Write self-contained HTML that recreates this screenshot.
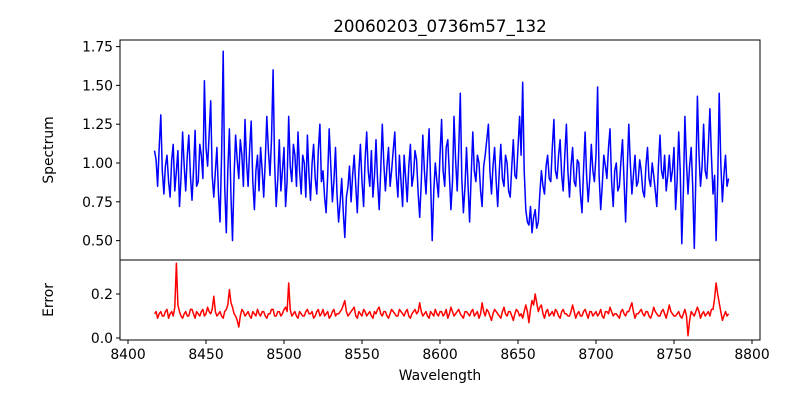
<!DOCTYPE html>
<html><head><meta charset="utf-8"><style>body{margin:0;background:#fff}svg{display:block;font-family:"DejaVu Sans","Liberation Sans",sans-serif}</style></head>
<body>
<svg id="chart" width="800" height="400" xmlns="http://www.w3.org/2000/svg">
<text x="440" y="32" font-size="16.7" text-anchor="middle">20060203_0736m57_132</text>
<text transform="translate(53,150) rotate(-90)" font-size="13.9" text-anchor="middle">Spectrum</text>
<text transform="translate(53,300) rotate(-90)" font-size="13.9" text-anchor="middle">Error</text>
<text x="440" y="380" font-size="13.9" text-anchor="middle">Wavelength</text>
<g id="g"></g>
</svg>
<script>
const wlStart = 8417, wlStep = 1;
const spectrum = [
1.08,1.02,0.85,1.10,1.31,0.95,0.80,0.98,1.05,0.88,0.78,1.02,1.12,0.82,0.95,1.08,0.72,0.90,1.20,0.98,
0.82,1.05,1.18,0.92,0.76,0.95,1.21,0.85,0.88,1.12,1.05,0.90,1.53,1.10,0.98,1.18,1.40,0.92,0.78,0.95,
1.10,0.80,0.62,1.05,1.72,0.85,0.55,0.95,1.22,0.78,0.50,0.92,1.18,1.02,0.90,1.15,1.05,0.85,1.28,1.00,
0.85,1.10,1.27,0.88,0.70,0.95,1.05,0.82,1.10,0.95,0.78,1.02,1.30,1.08,0.92,1.15,1.60,1.00,0.72,0.90,
1.15,0.82,0.95,1.10,0.72,0.88,1.30,0.98,0.88,1.12,1.05,0.85,1.20,0.95,0.80,1.05,1.00,0.78,1.18,0.92,
0.76,1.00,1.12,0.90,0.80,1.08,1.25,0.88,0.95,0.78,0.68,0.92,1.22,0.98,0.75,0.88,1.10,0.80,0.62,0.75,
0.90,0.68,0.52,0.78,0.85,0.98,0.75,0.92,1.05,0.85,0.68,0.95,1.12,0.88,0.72,1.02,1.20,0.95,0.85,1.08,
0.78,0.92,1.15,0.88,0.70,0.95,1.25,1.00,0.82,0.98,1.10,0.85,0.95,1.08,1.20,0.92,0.78,1.05,0.88,0.72,
1.05,0.90,0.75,0.98,1.12,0.85,0.92,1.08,1.02,0.80,0.65,0.88,1.18,0.95,0.80,1.02,1.22,0.88,0.50,0.82,
1.00,0.88,0.78,1.05,1.28,0.95,0.85,1.10,1.15,0.92,0.70,0.88,1.30,1.02,0.82,1.08,1.45,0.90,0.68,0.85,
1.10,0.85,0.62,0.92,1.20,0.95,0.88,1.05,1.00,0.82,0.72,0.98,1.05,1.15,1.25,0.95,0.80,0.98,1.10,0.88,
0.72,0.95,1.12,0.90,0.85,1.05,1.00,0.82,0.78,0.98,1.15,0.92,0.90,1.10,1.30,1.05,1.52,0.95,0.70,0.62,
0.60,0.72,0.55,0.65,0.70,0.58,0.62,0.80,0.95,0.85,0.80,0.98,1.05,0.90,0.88,1.10,1.28,0.95,0.90,1.05,
1.15,0.92,0.82,1.05,1.25,0.95,0.78,0.98,1.10,0.88,0.85,1.02,1.00,0.80,0.68,0.95,1.20,0.92,0.75,0.90,
1.12,0.95,0.88,1.05,1.49,0.92,0.70,0.85,1.05,0.98,0.90,1.10,1.22,0.88,0.72,0.95,1.00,0.82,0.85,1.02,
1.15,0.88,0.62,0.95,1.25,1.00,0.80,0.92,1.05,0.85,0.88,1.02,0.95,0.82,0.78,0.98,1.10,0.90,0.85,1.00,
0.92,0.82,0.72,0.98,1.18,0.95,0.90,1.05,0.82,0.92,1.05,0.88,0.95,1.10,0.70,0.88,1.20,0.95,0.48,0.82,
1.30,1.00,0.80,0.98,1.10,0.85,0.45,0.90,1.43,1.05,0.85,0.98,1.25,0.95,0.90,1.10,1.35,1.05,0.80,0.92,
0.50,0.88,1.45,1.00,0.75,0.92,1.05,0.85,0.90];
const errorVals = [
0.11,0.12,0.09,0.11,0.12,0.10,0.10,0.12,0.13,0.09,0.11,0.12,0.10,0.14,0.34,0.15,0.12,0.10,0.09,0.11,
0.12,0.10,0.10,0.13,0.13,0.11,0.09,0.12,0.11,0.10,0.12,0.13,0.10,0.11,0.14,0.12,0.11,0.13,0.19,0.12,
0.10,0.11,0.12,0.10,0.09,0.12,0.13,0.15,0.22,0.16,0.14,0.11,0.10,0.08,0.05,0.10,0.13,0.12,0.10,0.11,
0.12,0.10,0.09,0.12,0.11,0.10,0.13,0.11,0.10,0.12,0.12,0.10,0.09,0.11,0.11,0.13,0.13,0.10,0.10,0.12,
0.12,0.10,0.11,0.13,0.14,0.12,0.25,0.13,0.10,0.11,0.12,0.10,0.09,0.12,0.11,0.10,0.10,0.12,0.13,0.11,
0.11,0.12,0.09,0.10,0.12,0.13,0.10,0.11,0.13,0.10,0.11,0.12,0.09,0.10,0.12,0.13,0.10,0.11,0.11,0.12,
0.13,0.15,0.17,0.12,0.10,0.11,0.12,0.13,0.14,0.10,0.09,0.12,0.11,0.10,0.13,0.12,0.10,0.11,0.12,0.10,
0.09,0.12,0.11,0.13,0.14,0.11,0.10,0.12,0.12,0.10,0.09,0.11,0.13,0.12,0.11,0.10,0.10,0.13,0.12,0.11,
0.10,0.12,0.13,0.10,0.09,0.11,0.12,0.13,0.11,0.12,0.16,0.12,0.10,0.11,0.12,0.10,0.09,0.12,0.11,0.10,
0.13,0.11,0.10,0.12,0.12,0.10,0.11,0.13,0.09,0.11,0.14,0.12,0.10,0.11,0.12,0.13,0.11,0.10,0.09,0.12,
0.12,0.11,0.10,0.12,0.13,0.10,0.11,0.12,0.09,0.11,0.16,0.12,0.10,0.13,0.12,0.10,0.08,0.11,0.13,0.12,
0.11,0.10,0.09,0.12,0.14,0.11,0.10,0.12,0.12,0.10,0.08,0.11,0.13,0.12,0.10,0.11,0.09,0.12,0.15,0.12,
0.07,0.13,0.17,0.15,0.20,0.16,0.12,0.14,0.15,0.11,0.09,0.12,0.13,0.10,0.11,0.12,0.10,0.13,0.12,0.10,
0.09,0.12,0.13,0.11,0.11,0.10,0.10,0.12,0.15,0.12,0.09,0.11,0.12,0.10,0.10,0.12,0.13,0.11,0.09,0.12,
0.12,0.10,0.11,0.12,0.10,0.11,0.13,0.10,0.09,0.12,0.12,0.11,0.14,0.12,0.10,0.11,0.11,0.10,0.09,0.12,
0.13,0.11,0.10,0.12,0.12,0.14,0.16,0.12,0.09,0.11,0.11,0.12,0.13,0.11,0.10,0.12,0.12,0.10,0.09,0.11,
0.14,0.12,0.11,0.10,0.10,0.12,0.13,0.11,0.09,0.12,0.15,0.12,0.11,0.10,0.10,0.11,0.12,0.10,0.09,0.11,
0.13,0.10,0.01,0.08,0.12,0.11,0.10,0.12,0.14,0.12,0.09,0.11,0.12,0.10,0.11,0.12,0.10,0.13,0.13,0.18,
0.25,0.20,0.16,0.12,0.08,0.10,0.12,0.10,0.11];
const xTicks = [8400,8450,8500,8550,8600,8650,8700,8750,8800];
const specTicks = [0.50,0.75,1.00,1.25,1.50,1.75];
const errTicks = [0.0,0.2];

const NS='http://www.w3.org/2000/svg', g=document.getElementById('g');
const L=120,R=760,T1=40,B1=260,B2=340;
const xs = w => 128 + (w-8400)*1.56;
const ys1 = v => 163 - (v-1)*155.2;
const ys2 = v => 338 - v*220;
function mk(t,a){const e=document.createElementNS(NS,t);for(const k in a)e.setAttribute(k,a[k]);g.appendChild(e);return e;}

let e;
e=mk('polyline',{points:spectrum.map((v,i)=>xs(wlStart+i*wlStep).toFixed(1)+','+ys1(v).toFixed(1)).join(' '),fill:'none',stroke:'#0000ff','stroke-width':1.5,'stroke-linejoin':'round'});


e=mk('polyline',{points:errorVals.map((v,i)=>xs(wlStart+i*wlStep).toFixed(1)+','+ys2(v).toFixed(1)).join(' '),fill:'none',stroke:'#ff0000','stroke-width':1.5,'stroke-linejoin':'round'});



e=mk('rect',{x:L,y:T1,width:R-L,height:B1-T1,fill:'none',stroke:'#000','stroke-width':1});


e=mk('rect',{x:L,y:B1,width:R-L,height:B2-B1,fill:'none',stroke:'#000','stroke-width':1});



specTicks.forEach(v=>{const y=ys1(v);
 e=mk('line',{x1:L-4,x2:L,y1:y,y2:y,stroke:'#000'});
 
 
 e=mk('text',{x:L-7,y:y+5,'font-size':13.9,'text-anchor':'end'});e.textContent=v.toFixed(2);
 
 });
errTicks.forEach(v=>{const y=ys2(v);
 e=mk('line',{x1:L-4,x2:L,y1:y,y2:y,stroke:'#000'});
 
 
 e=mk('text',{x:L-7,y:y+5,'font-size':13.9,'text-anchor':'end'});e.textContent=v.toFixed(1);
 
 });
xTicks.forEach(v=>{const x=xs(v);
 e=mk('line',{x1:x,x2:x,y1:B2,y2:B2+4,stroke:'#000'});
 
 
 e=mk('text',{x:x,y:B2+19,'font-size':13.9,'text-anchor':'middle'});e.textContent=v;
 
 });
</script>
</body></html>
